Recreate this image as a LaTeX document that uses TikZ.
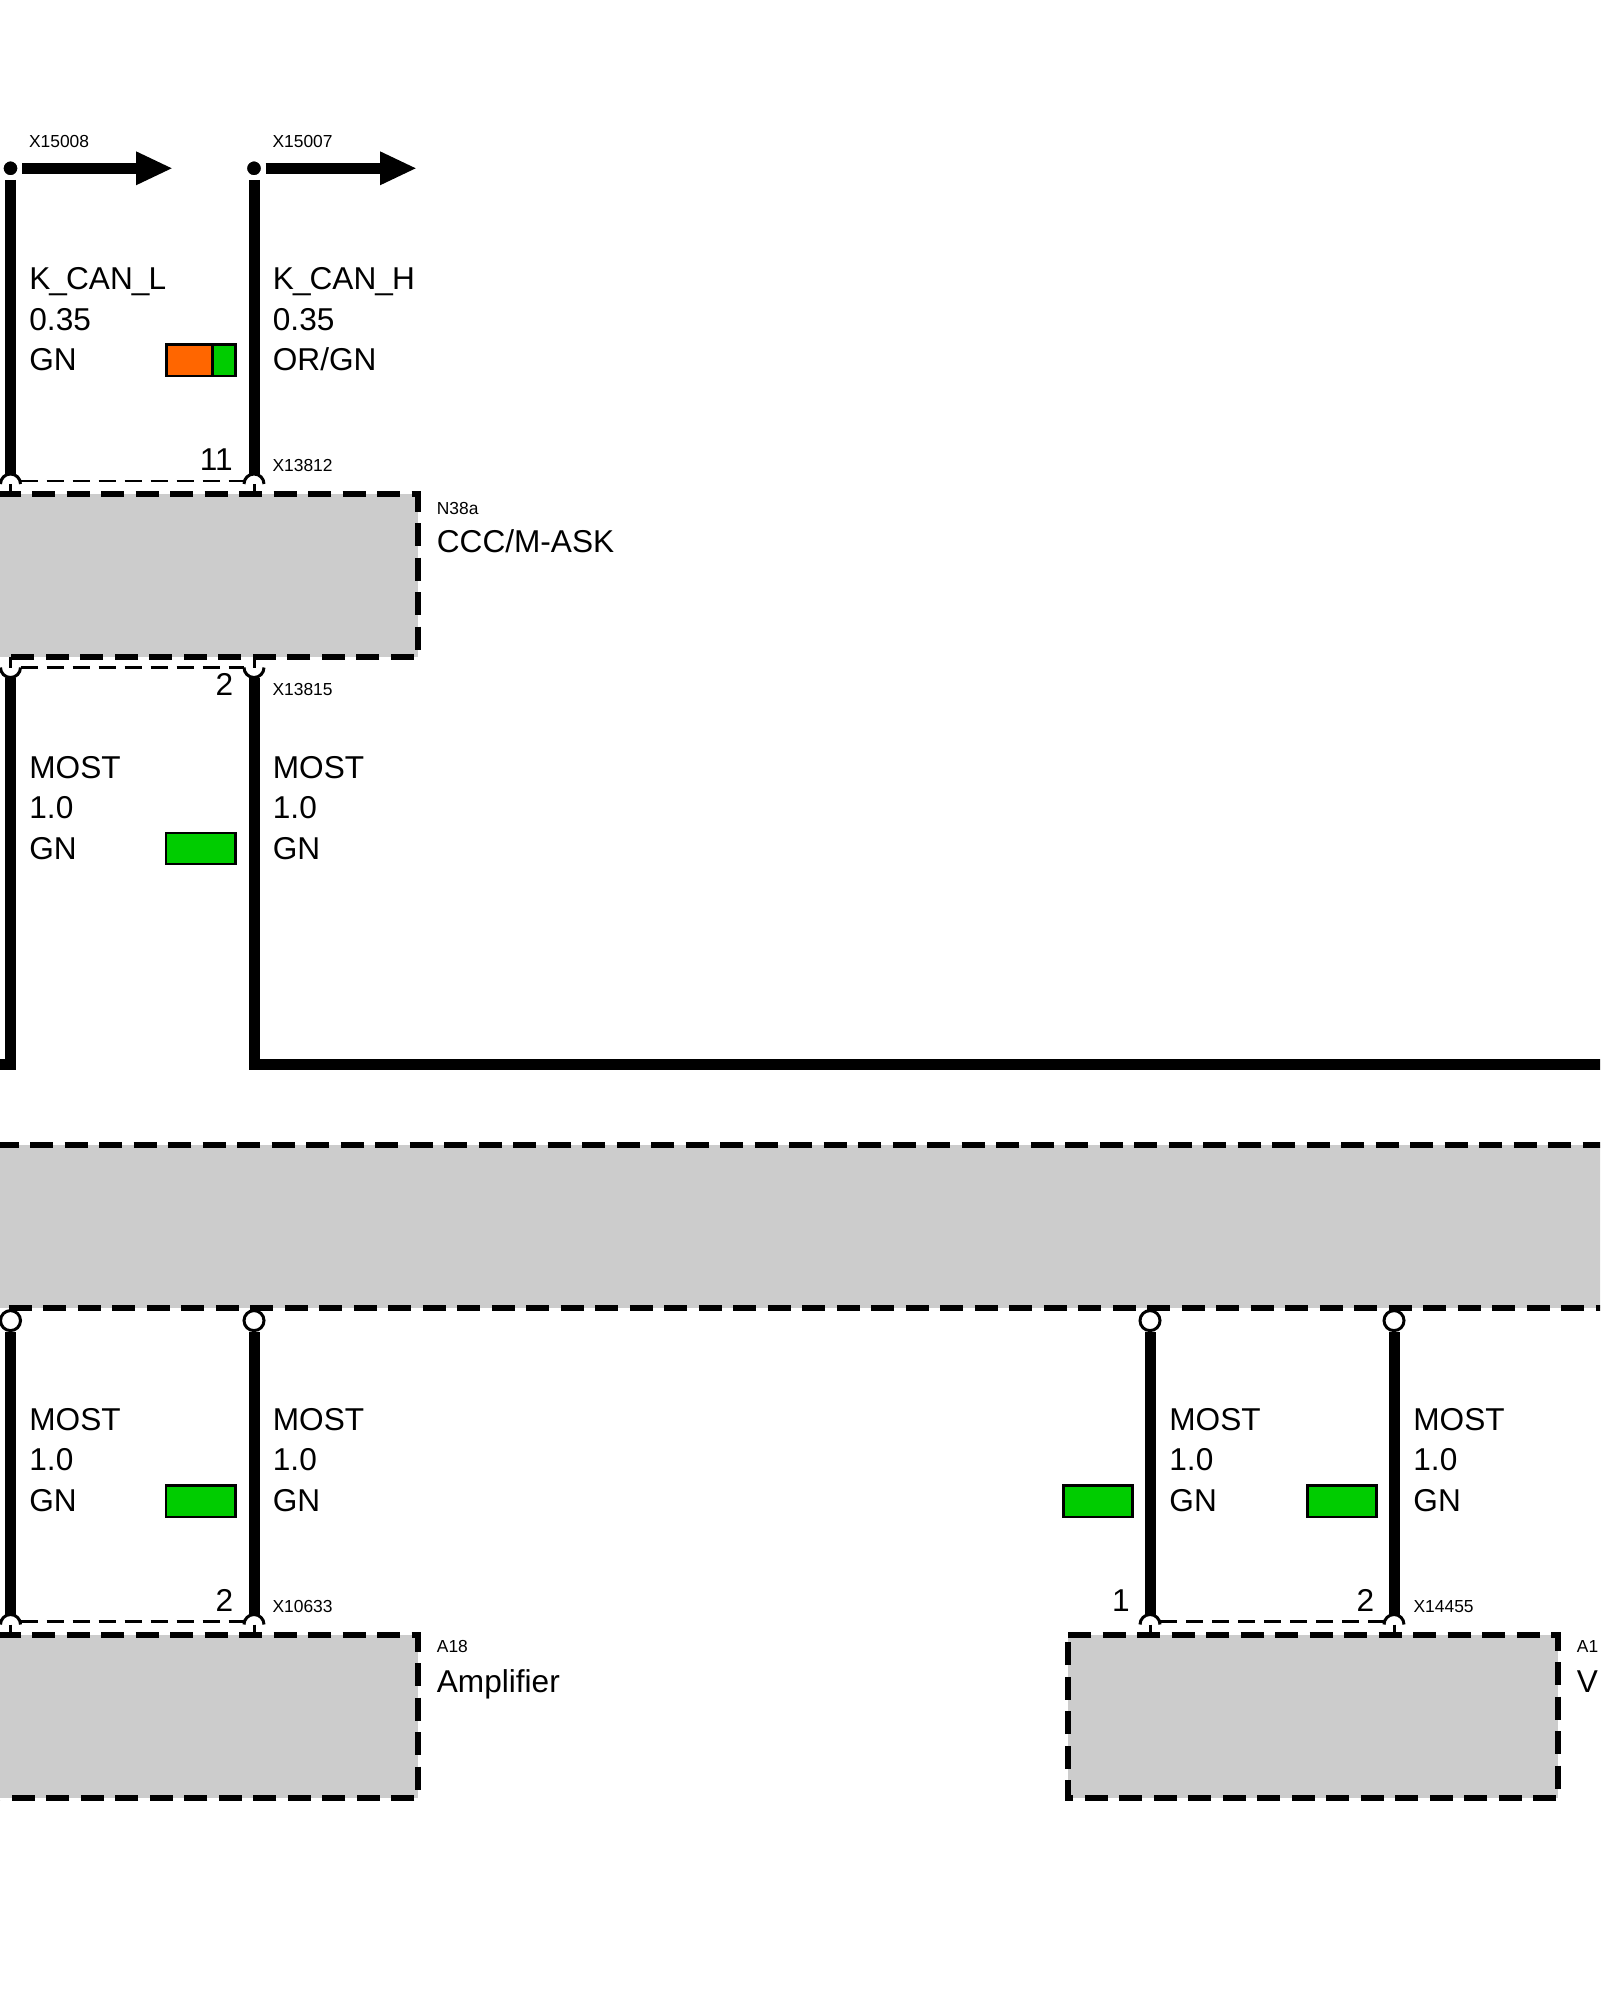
\documentclass[tikz,border=0pt]{standalone}
\usepackage{fontspec}
\usetikzlibrary{calc}
\setmainfont{Liberation Sans}
\definecolor{boxgray}{HTML}{CCCCCC}
\definecolor{wgreen}{HTML}{00CC00}
\definecolor{worange}{HTML}{FF6600}
\newcommand{\kus}{\kern-.5pt\_\kern-.45pt}
\tikzset{
  wire/.style={line width=5.5pt,line cap=butt,miter limit=10},
  pinline/.style={line width=1.5pt,line cap=butt},
  linkline/.style={line width=1.4pt,dash pattern=on 8.5pt off 4.5pt},
  boxfill/.style={fill=boxgray,draw=none},
  boxedge/.style={line width=3pt,line cap=butt,miter limit=10,dash pattern=on 11.5pt off 5.75pt},
  dotnode/.style={circle,fill=black,draw=white,line width=2.25pt,minimum size=9.25pt,inner sep=0pt},
  opennode/.style={circle,fill=white,draw=black,line width=1.5pt,minimum size=10pt,inner sep=0pt,outer sep=.75pt},
  swatch/.style={draw=black,line width=1.25pt},
  big/.style={anchor=base west,inner sep=0pt,align=left,font=\fontsize{15.8}{20.25}\selectfont},
  bigr/.style={anchor=base east,inner sep=0pt,font=\fontsize{15.8}{18}\selectfont},
  small/.style={anchor=base west,inner sep=0pt,font=\fontsize{8.7}{10}\selectfont},
}
% top half pin, #1 name, #2 x, #3 y of arc centre, #4 y of box edge
\newcommand{\toppin}[4]{%
  \coordinate (#1) at (#2,#3);
  \coordinate (#1w) at (#2,#3-10);
  \coordinate (#1l) at (#2-10,#3);
  \coordinate (#1r) at (#2+10,#3);
  \coordinate (#1b) at (#2,#4);
  \draw[pinline] (#1l) arc[start angle=180,end angle=0,radius=5pt];
  \draw[pinline] (#1) -- (#1b);
}
\newcommand{\botpin}[4]{%
  \coordinate (#1) at (#2,#3);
  \coordinate (#1w) at (#2,#3+10);
  \coordinate (#1l) at (#2-10,#3);
  \coordinate (#1r) at (#2+10,#3);
  \coordinate (#1b) at (#2,#4);
  \draw[pinline] (#1l) arc[start angle=180,end angle=360,radius=5pt];
  \draw[pinline] (#1) -- (#1b);
}
% colour swatch centred on y, right edge x
\newcommand{\greenswatch}[2]{\filldraw[swatch,fill=wgreen] (#1-69.2,#2-15.7) rectangle (#1,#2+15.7);}
\begin{document}
\begin{tikzpicture}[x=0.5pt,y=-0.5pt]
\clip (0,0) rectangle (1600,2000);
\fill[white] (0,0) rectangle (1600,2000);

% boxes
\fill[boxfill] (-40,494.3) rectangle (417.5,657);
\draw[boxedge] (-2.3,494.3) -- (417.5,494.3) -- (417.5,657) -- (-40,657);
\fill[boxfill] (-40,1145.3) rectangle (1640,1308.3);
\draw[boxedge] (-4.5,1145.3) -- (1640,1145.3);
\draw[boxedge] (-25.7,1308.3) -- (1640,1308.3);
\fill[boxfill] (-40,1634.5) rectangle (417.5,1798);
\draw[boxedge] (-2.3,1634.5) -- (417.5,1634.5) -- (417.5,1798) -- (-40,1798);
\fill[boxfill] (1068,1634.5) rectangle (1558,1798);
\draw[boxedge] (1068,1634.5) -- (1558,1634.5) -- (1558,1798) -- (1068,1798) -- cycle;

% top connectors with arrows
\node[dotnode] (d1) at (10.5,168.3) {};
\node[dotnode] (d2) at (254,168.3) {};
\coordinate (a1) at (136,168.3);
\coordinate (a2) at (380,168.3);
\draw[wire] (d1.east) -- (a1);
\draw[wire] (d2.east) -- (a2);
\fill (a1) ++(0,-17) -- ++(35.7,17) -- ++(-35.7,17) -- cycle;
\fill (a2) ++(0,-17) -- ++(35.7,17) -- ++(-35.7,17) -- cycle;

% pins and wires: N38a top
\toppin{p1}{10.5}{484}{494.3}
\toppin{p2}{254}{484}{494.3}
\draw[wire] (d1.south) -- (p1w);
\draw[wire] (d2.south) -- (p2w);
\draw[linkline] ($(p1r)+(0,-3)$) -- ($(p2l)+(0,-3)$);

% N38a bottom
\botpin{p3}{10.5}{667.5}{657}
\botpin{p4}{254}{667.5}{657}
\coordinate (c3) at (10.5,1064.3);
\coordinate (c4) at (254,1064.3);
\coordinate (e3) at (-20,1064.3);
\coordinate (e4) at (1640,1064.3);
\draw[wire] (p3w) -- (c3) -- (e3);
\draw[wire] (p4w) -- (c4) -- (e4);
\draw[linkline] (p3r) -- (p4l);

% lower pins
\node[opennode] (o1) at (10.5,1320.6) {};
\node[opennode] (o2) at (254,1320.6) {};
\node[opennode] (o3) at (1150,1320.6) {};
\node[opennode] (o4) at (1394,1320.6) {};
\toppin{p5}{10.5}{1624.5}{1634.5}
\toppin{p6}{254}{1624.5}{1634.5}
\toppin{p7}{1150}{1624.5}{1634.5}
\toppin{p8}{1394}{1624.5}{1634.5}
\draw[wire] (o1.south) -- (p5w);
\draw[wire] (o2.south) -- (p6w);
\draw[wire] (o3.south) -- (p7w);
\draw[wire] (o4.south) -- (p8w);
\draw[linkline] ($(p5r)+(0,-3)$) -- ($(p6l)+(0,-3)$);
\draw[linkline] ($(p7r)+(0,-3)$) -- ($(p8l)+(0,-3)$);

% swatches
\filldraw[swatch,fill=worange] (166.3,344.6) rectangle (212.5,376);
\filldraw[swatch,fill=wgreen] (212.5,344.6) rectangle (235.4,376);
\greenswatch{235.4}{848.5}
\greenswatch{235.4}{1501.2}
\greenswatch{1132.7}{1501.2}
\greenswatch{1376.7}{1501.2}

% wire labels
\node[big] (t1) at (29,370.7) {K\kus CAN\kus L\\0.35\\GN};
\node[big] (t2) at (272.5,370.7) {K\kus CAN\kus H\\0.35\\OR/GN};
\node[big] (t3) at (29,859.2) {MOST\\1.0\\GN};
\node[big] (t4) at (272.5,859.2) {MOST\\1.0\\GN};
\node[big] (t5) at (29,1511.2) {MOST\\1.0\\GN};
\node[big] (t6) at (272.5,1511.2) {MOST\\1.0\\GN};
\node[big] (t7) at (1169,1511.2) {MOST\\1.0\\GN};
\node[big] (t8) at (1413,1511.2) {MOST\\1.0\\GN};

% small connector labels
\node[small] (x1) at (28.7,148) {X15008};
\node[small] (x2) at (272.2,148) {X15007};
\node[small] (x3) at (272.2,472) {X13812};
\node[small] (x4) at (272.2,695) {X13815};
\node[small] (x5) at (272.2,1612.2) {X10633};
\node[small] (x6) at (1413.2,1612.2) {X14455};
\node[small] (x7) at (436.5,514.2) {N38a};
\node[small] (x8) at (436.5,1652) {A18};
\node[small] (x9) at (1576.5,1652) {A1};

% pin numbers
\node[bigr] (n1) at (233,470.7) {11};
\node[bigr] (n2) at (233.5,695) {2};
\node[bigr] (n3) at (233.5,1611) {2};
\node[bigr] (n4) at (1130,1611) {1};
\node[bigr] (n5) at (1374.5,1611) {2};

% component names
\node[big] (m1) at (436.5,552) {CCC/M-ASK};
\node[big] (m2) at (436.5,1692) {Amplifier};
\node[big] (m3) at (1576.5,1692) {V};
\end{tikzpicture}
\end{document}
